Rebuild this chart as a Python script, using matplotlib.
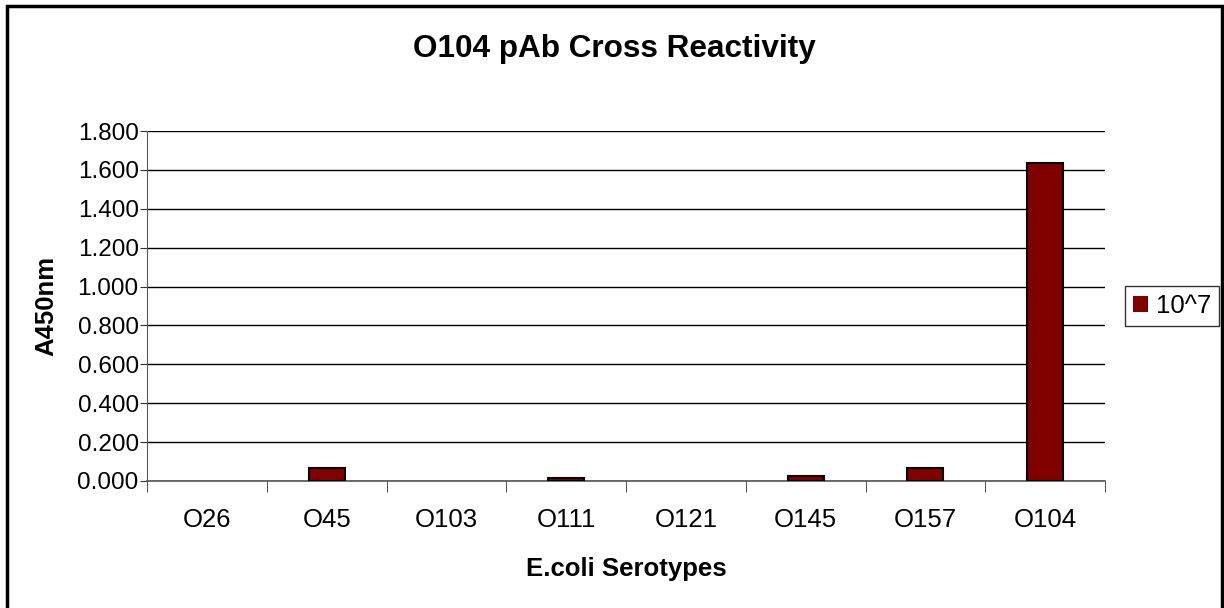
import matplotlib.pyplot as plt
from matplotlib.patches import Rectangle

plt.rcParams['font.family'] = ['Liberation Sans', 'DejaVu Sans']

serotypes = ["O26", "O45", "O103", "O111", "O121", "O145", "O157", "O104"]
a450 = [0.0, 0.065, 0.0, 0.017, 0.0, 0.025, 0.065, 1.635]
yticks = [0.0, 0.2, 0.4, 0.6, 0.8, 1.0, 1.2, 1.4, 1.6, 1.8]

fig = plt.figure(figsize=(12.24, 6.08), dpi=100)
ax = fig.add_axes([0.1201, 0.2089, 0.7827, 0.5756])

x = list(range(len(serotypes)))
# zero bars leave no outline in the original
lw = [1.5 if v > 0 else 0 for v in a450]
ax.bar(x, a450, width=0.3, color="#800000", edgecolor="black", linewidth=lw,
       label="10^7", zorder=3)

ax.set_xlim(-0.5, len(serotypes) - 0.5)
ax.set_ylim(0, 1.8)
ax.set_yticks(yticks)
ax.set_yticklabels(["%.3f" % v for v in yticks])
ax.set_xticks(x)
ax.set_xticklabels(serotypes)
ax.set_xticks([i - 0.5 for i in range(len(serotypes) + 1)], minor=True)
ax.tick_params(axis="x", which="major", length=0, pad=19.5, labelsize=18.5)
ax.tick_params(axis="x", which="minor", length=8, direction="out", color="#333333")
ax.tick_params(axis="y", length=5, direction="out", labelsize=17.5, pad=1, color="#333333")
ax.grid(axis="y", color="black", linewidth=1, zorder=0)
for s in ["top", "right"]:
    ax.spines[s].set_visible(False)
ax.spines["left"].set_color("#555555")
ax.spines["bottom"].set_color("#555555")
ax.spines["bottom"].set_linewidth(1.2)

fig.text(0.502, 1 - 49 / 608, "O104 pAb Cross Reactivity", fontsize=22.7,
         fontweight="bold", ha="center", va="center")
ax.set_xlabel("E.coli Serotypes", fontsize=18.5, fontweight="bold", labelpad=18)
ax.set_ylabel("A450nm", fontsize=18.5, fontweight="bold", labelpad=14)

leg = ax.legend(loc="center left", bbox_to_anchor=(1.021, 0.5), frameon=True,
                fancybox=False, edgecolor="black", fontsize=18.5, handlelength=0.6,
                handleheight=0.6, handletextpad=0.3, borderpad=0.3, borderaxespad=0)
leg.get_frame().set_linewidth(1)

fig.patches.append(Rectangle((7 / 1224, -0.01), 1215 / 1224, 1 - 6 / 608 + 0.01,
                             transform=fig.transFigure, fill=False,
                             edgecolor="black", linewidth=2.5))

fig.savefig("out.png", dpi=100)
